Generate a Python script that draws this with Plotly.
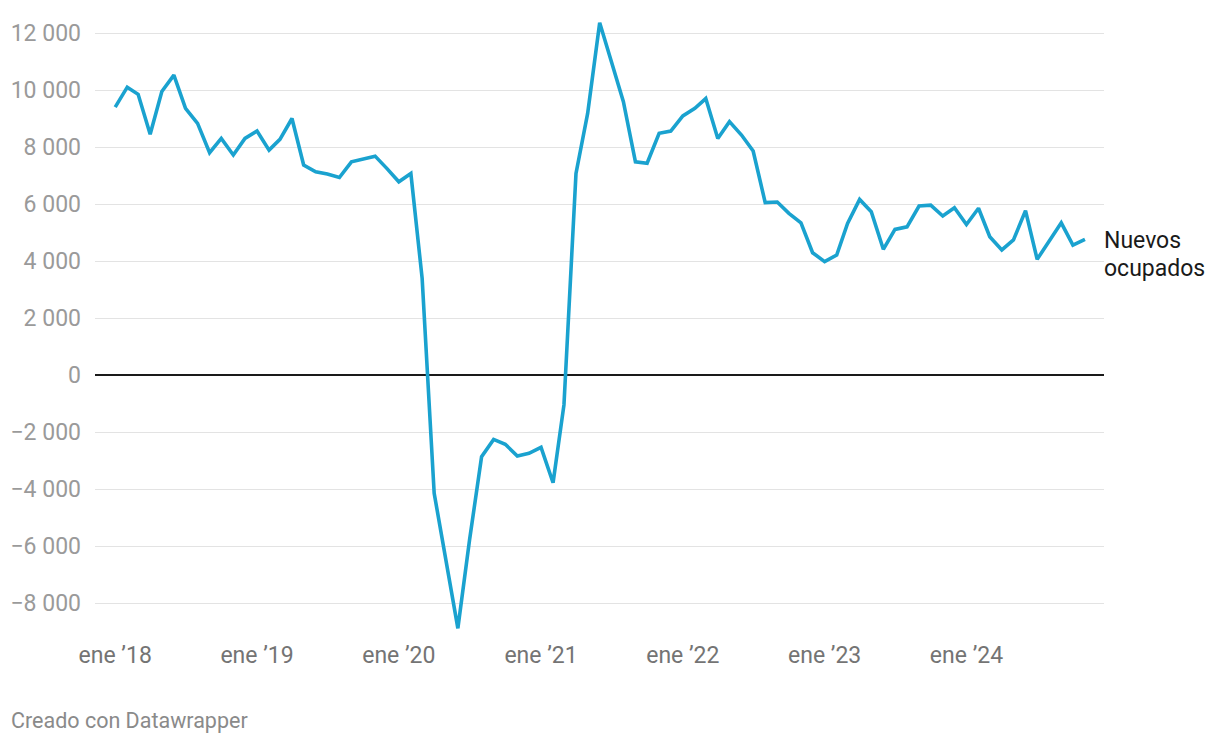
import plotly.graph_objects as go
import pandas as pd

# Monthly values, Jan 2018 – Nov 2024
start_month = "2018-01-01"
values = [
    9400, 10100, 9850, 8450, 9950, 10520, 9360, 8830, 7800, 8300, 7720, 8300,      # 2018
    8560, 7890, 8270, 9000, 7370, 7130, 7050, 6930, 7480, 7580, 7680, 7250,        # 2019
    6780, 7070, 3390, -4150, -6490, -8890, -5790, -2870, -2260, -2430, -2840, -2750,  # 2020
    -2540, -3780, -1050, 7070, 9180, 12360, 11000, 9590, 7480, 7430, 8480, 8560,   # 2021
    9090, 9360, 9700, 8300, 8890, 8420, 7860, 6050, 6070, 5670, 5340, 4290,        # 2022
    3980, 4210, 5320, 6160, 5730, 4410, 5110, 5200, 5930, 5960, 5580, 5870,        # 2023
    5280, 5850, 4850, 4390, 4740, 5770, 4060, 4680, 5340, 4560, 4760,              # 2024
]
series_label_lines = ["Nuevos", "ocupados"]

x_tick_dates = ["2018-01-01", "2019-01-01", "2020-01-01", "2021-01-01",
                "2022-01-01", "2023-01-01", "2024-01-01"]
x_tick_labels = ["ene ’18", "ene ’19", "ene ’20", "ene ’21", "ene ’22", "ene ’23", "ene ’24"]

y_tick_vals = [12000, 10000, 8000, 6000, 4000, 2000, 0, -2000, -4000, -6000, -8000]
y_tick_labels = ["12 000", "10 000", "8 000", "6 000", "4 000", "2 000", "0",
                 "−2 000", "−4 000", "−6 000", "−8 000"]

footer = "Creado con Datawrapper"

dates = pd.date_range(start_month, periods=len(values), freq="MS")

LINE = "#1aa2cf"
FONT = "Roboto"

W, H = 1212, 736
ML, MR, MT, MB = 87, 116, 7, 109

fig = go.Figure()
fig.add_trace(go.Scatter(
    x=dates, y=values, mode="lines",
    line=dict(color=LINE, width=3.6),
    hoverinfo="skip", showlegend=False,
))

# end label, two lines
for i, line in enumerate(series_label_lines):
    fig.add_annotation(
        x=1, xref="paper", xanchor="left", xshift=-2,
        y=values[-1], yref="y", yanchor="middle", yshift=-1 - 28 * i,
        text=line, showarrow=False, align="left",
        font=dict(family=FONT, size=23, color="#1a1a1a"),
    )

plot_w = W - ML - MR
plot_h = H - MT - MB
fig.add_annotation(
    x=-ML / plot_w, xref="paper", xanchor="left", xshift=1,
    y=(H - MB - 712) / plot_h, yref="paper", yanchor="middle",
    text=footer, showarrow=False,
    font=dict(family=FONT, size=21.5, color="#8a8a8a"),
)

fig.update_layout(
    width=W, height=H,
    margin=dict(l=ML, r=MR, t=MT, b=MB),
    paper_bgcolor="white", plot_bgcolor="white",
    font=dict(family=FONT, size=23),
    xaxis=dict(
        range=["2017-11-10", "2024-12-20"],
        tickvals=x_tick_dates, ticktext=x_tick_labels,
        showgrid=False, zeroline=False, showline=False,
        ticks="", tickfont=dict(family=FONT, size=23, color="#747474"),
        ticklabelstandoff=4, automargin=False,
    ),
    yaxis=dict(
        range=[-9123, 12632],
        tickvals=y_tick_vals, ticktext=y_tick_labels,
        showgrid=True, gridcolor="#e3e3e3", gridwidth=1,
        zeroline=True, zerolinecolor="#1a1a1a", zerolinewidth=1.5,
        showline=False, ticks="",
        tickfont=dict(family=FONT, size=23, color="#9a9a9a"),
        ticklabelstandoff=13, automargin=False,
    ),
)

fig.write_html("out.html")
